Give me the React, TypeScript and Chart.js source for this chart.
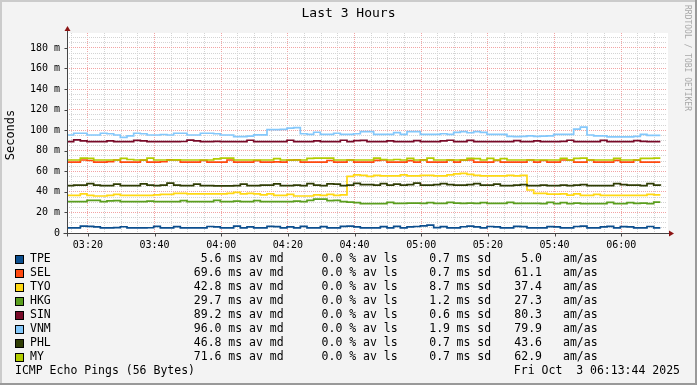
import React, { useEffect, useRef } from 'react';
import { Chart, registerables } from 'chart.js';
Chart.register(...registerables);

// ---- Data ----
const hosts = ['TPE', 'SEL', 'TYO', 'HKG', 'SIN', 'VNM', 'PHL', 'MY'];
const hostColors = ['#0b4e8e', '#ff4a10', '#ffd814', '#5a9e1e', '#780a28', '#84c8fb', '#2f3d04', '#b2cc00'];
const medianMs = ['5.6', '69.6', '42.8', '29.7', '89.2', '96.0', '46.8', '71.6'];
const lossPct = ['0.0', '0.0', '0.0', '0.0', '0.0', '0.0', '0.0', '0.0'];
const sdMs = ['0.7', '0.7', '8.7', '1.2', '0.6', '1.9', '0.7', '0.7'];
const amas = ['5.0', '61.1', '37.4', '27.3', '80.3', '79.9', '43.6', '62.9'];

// samples every 2 minutes, starting 03:13:44 (minutes after 03:00)
const sampleStartMin = 13 + 44 / 60;
const sampleStepMin = 2;
const rangeMinutes = 180;

const tpe = [
  5.0, 5.0, 6.6, 6.4, 6.0, 5.0, 5.0, 5.2, 6.1, 5.0,
  5.0, 5.0, 5.1, 6.5, 5.0, 5.0, 6.2, 5.0, 5.0, 5.0,
  5.0, 6.3, 6.0, 5.0, 5.0, 6.6, 5.0, 6.0, 5.0, 5.0,
  6.4, 6.2, 5.0, 6.0, 5.0, 6.5, 5.0, 5.0, 6.2, 5.0,
  5.0, 6.4, 6.6, 6.0, 5.0, 5.0, 5.0, 6.2, 5.0, 6.5,
  5.0, 6.0, 6.3, 7.0, 7.6, 5.2, 6.2, 5.0, 5.0, 6.1,
  6.6, 6.0, 5.0, 6.3, 6.0, 5.0, 5.0, 6.4, 6.2, 5.0,
  5.0, 5.0, 6.2, 6.0, 5.0, 5.0, 6.3, 6.6, 5.0, 5.0,
  6.0, 6.5, 5.0, 6.2, 6.0, 5.0, 5.0, 6.3, 5.0, 5.0,
];
const sel = [
  69.0, 69.0, 71.0, 70.5, 69.0, 69.0, 69.5, 71.0, 69.0, 69.0,
  69.0, 70.8, 69.0, 69.0, 69.3, 71.2, 71.0, 69.0, 69.0, 69.0,
  70.6, 69.0, 69.0, 69.0, 71.0, 69.0, 69.0, 69.0, 70.4, 69.0,
  69.0, 69.2, 69.0, 70.8, 71.2, 69.0, 69.0, 69.0, 69.0, 70.5,
  69.0, 69.0, 71.0, 69.0, 69.0, 69.0, 70.6, 71.0, 69.0, 69.0,
  69.0, 70.4, 69.0, 71.2, 69.0, 69.0, 69.0, 70.8, 69.0, 70.8,
  71.0, 69.0, 69.0, 69.0, 70.6, 69.0, 69.0, 69.0, 69.0, 71.0,
  69.0, 70.5, 69.0, 69.0, 71.0, 70.8, 69.0, 69.0, 71.0, 69.0,
  69.0, 69.0, 70.6, 69.0, 69.0, 70.8, 69.0, 69.0, 69.0, 69.0,
];
const tyo = [
  36.5, 36.5, 38.0, 36.5, 36.0, 36.0, 36.5, 37.5, 36.5, 36.5,
  36.5, 36.5, 36.5, 37.0, 37.5, 37.5, 38.5, 38.5, 38.0, 38.0,
  38.0, 38.0, 38.0, 38.0, 38.5, 39.5, 38.0, 38.5, 38.0, 37.0,
  38.0, 36.5, 36.5, 37.5, 36.0, 36.0, 36.0, 37.0, 36.5, 37.5,
  36.5, 37.0, 55.0, 56.5, 56.0, 55.0, 56.0, 55.5, 55.5, 55.5,
  56.5, 55.5, 55.5, 56.0, 56.0, 55.5, 55.5, 56.5, 57.5, 58.0,
  57.0, 56.0, 55.5, 55.5, 55.5, 55.5, 56.0, 55.5, 56.0, 41.8,
  38.6, 38.6, 37.8, 37.8, 38.0, 36.8, 38.0, 36.5, 36.5, 37.5,
  36.5, 36.5, 36.5, 36.5, 36.5, 36.5, 36.5, 37.5, 37.0, 37.0,
];
const hkg = [
  30.5, 30.5, 30.5, 31.8, 31.8, 30.5, 31.2, 31.5, 30.5, 30.5,
  30.5, 30.5, 31.0, 30.5, 30.5, 30.5, 30.5, 31.5, 30.5, 30.5,
  30.5, 30.5, 31.8, 30.5, 30.5, 31.0, 30.5, 30.5, 31.5, 30.5,
  30.5, 30.5, 30.5, 30.5, 31.0, 30.5, 31.8, 33.0, 33.0, 31.5,
  31.8, 30.5, 30.0, 29.5, 28.5, 28.5, 28.5, 28.5, 29.8, 28.8,
  28.8, 29.0, 29.0, 28.8, 29.5, 28.8, 28.8, 29.8, 29.0, 28.8,
  29.0, 28.8, 29.6, 28.8, 28.8, 28.8, 29.8, 28.8, 28.8, 28.8,
  28.8, 28.5, 29.8, 28.5, 29.6, 28.5, 29.0, 28.5, 28.5, 28.5,
  28.5, 29.8, 28.5, 28.5, 29.5, 28.8, 29.0, 28.5, 30.0, 30.0,
];
const sin = [
  88.8, 90.5, 89.6, 88.8, 88.8, 88.8, 89.6, 88.8, 88.8, 88.8,
  90.0, 89.6, 88.8, 88.8, 88.8, 88.8, 88.8, 89.0, 90.3, 89.6,
  88.8, 88.8, 89.2, 88.8, 88.8, 88.8, 88.8, 90.2, 88.8, 88.8,
  88.8, 88.8, 88.8, 90.2, 88.8, 88.8, 88.8, 89.6, 88.8, 88.8,
  88.8, 90.2, 88.8, 89.8, 90.0, 88.8, 88.8, 88.8, 89.6, 88.8,
  88.8, 88.8, 89.8, 88.8, 88.8, 88.8, 89.6, 90.2, 88.8, 88.8,
  90.0, 88.8, 88.8, 88.8, 88.8, 88.8, 88.8, 89.8, 88.8, 88.8,
  89.6, 88.8, 88.8, 88.8, 89.2, 90.2, 88.8, 88.8, 88.8, 88.8,
  90.0, 88.8, 88.8, 88.8, 88.8, 89.8, 89.2, 88.8, 88.8, 88.8,
];
const vnm = [
  95.3, 97.0, 97.0, 95.3, 95.3, 97.0, 96.5, 95.3, 93.0, 94.5,
  97.0, 96.5, 95.3, 95.3, 95.8, 95.3, 97.0, 97.0, 95.3, 95.3,
  97.0, 97.0, 96.5, 95.3, 95.3, 93.8, 93.8, 94.2, 95.5, 95.5,
  100.5, 100.5, 100.8, 102.0, 102.5, 96.5, 96.0, 98.0, 96.0, 96.0,
  97.0, 96.0, 96.0, 96.5, 98.5, 98.5, 96.0, 96.0, 96.0, 97.6,
  96.0, 98.6, 98.6, 96.0, 96.0, 96.0, 96.5, 96.0, 97.8, 98.5,
  97.5, 98.5, 97.8, 96.0, 96.0, 96.0, 94.0, 93.8, 94.0, 94.5,
  94.0, 94.2, 94.5, 96.0, 96.0, 96.0, 101.0, 103.0, 95.3, 94.5,
  94.5, 93.5, 93.5, 93.5, 93.5, 94.0, 96.0, 95.0, 95.0, 95.0,
];
const phl = [
  46.0, 46.5, 46.5, 48.0, 46.5, 46.0, 46.0, 47.5, 46.0, 46.0,
  46.0, 47.8, 46.5, 46.0, 46.5, 48.5, 46.5, 46.0, 46.0, 47.6,
  46.0, 46.0, 45.8, 45.8, 45.8, 46.0, 47.5, 46.0, 46.0, 46.5,
  46.5, 47.8, 46.0, 46.0, 46.5, 46.0, 48.0, 46.5, 46.0, 47.8,
  47.6, 46.0, 46.5, 48.2, 47.0, 47.0, 46.5, 48.0, 46.5, 47.5,
  46.5, 47.0, 48.5, 46.5, 46.5, 47.0, 48.0, 47.0, 46.5, 46.5,
  47.0, 48.0, 46.5, 46.5, 47.5, 46.0, 46.0, 46.5, 47.0, 46.0,
  46.0, 46.5, 46.0, 46.0, 46.5, 46.0, 46.5, 47.0, 46.0, 46.0,
  46.0, 46.0, 48.0, 47.0, 46.5, 46.5, 46.0, 48.0, 46.5, 46.0,
];
const my = [
  71.0, 71.0, 72.8, 72.5, 71.0, 71.0, 71.0, 71.0, 72.6, 71.5,
  71.0, 71.0, 72.8, 71.0, 71.0, 71.0, 71.2, 71.0, 71.0, 71.0,
  71.0, 71.0, 72.0, 72.8, 72.8, 71.0, 71.0, 71.0, 71.0, 71.0,
  71.0, 72.4, 71.0, 71.0, 71.0, 71.0, 72.6, 72.8, 72.8, 72.8,
  71.0, 71.0, 71.0, 71.0, 71.0, 71.0, 72.8, 71.5, 71.0, 71.5,
  71.0, 72.5, 71.0, 71.0, 72.8, 71.0, 71.0, 71.0, 71.0, 71.0,
  72.6, 72.4, 71.0, 72.6, 71.0, 72.4, 71.0, 71.0, 71.0, 71.0,
  71.0, 71.0, 71.0, 71.0, 72.5, 71.0, 72.5, 72.8, 71.0, 71.0,
  71.0, 71.0, 72.5, 71.0, 71.0, 71.0, 72.6, 72.6, 72.8, 72.8,
];

// ---- Axis ticks ----
const xMajorMinutes = [20, 40, 60, 80, 100, 120, 140, 160, 180];
const xTickLabels = ['03:20', '03:40', '04:00', '04:20', '04:40', '05:00', '05:20', '05:40', '06:00'];
const xMinorStep = 5;
const yMajorValues = [0, 20, 40, 60, 80, 100, 120, 140, 160, 180];
const yTickLabels = ['0', '20 m', '40 m', '60 m', '80 m', '100 m', '120 m', '140 m', '160 m', '180 m'];
const yMinorStep = 5;
const yMax = 194.5;

const titleText = 'Last 3 Hours';
const yAxisTitle = 'Seconds';
const watermark = 'RRDTOOL / TOBI OETIKER';
const footerLeft = 'ICMP Echo Pings (56 Bytes)';
const footerRight = 'Fri Oct  3 06:13:44 2025';

const MONO = '"DejaVu Sans Mono", monospace';
const MAJOR_GRID = '#f2a4a4';
const MINOR_GRID = '#d4d4d4';
const AXIS = '#454545';
const ARROW = '#8c1414';

const decorPlugin = {
  id: 'rrdDecor',
  beforeDraw(chart: any) {
    const { ctx, chartArea: ca, width, height } = chart;
    ctx.save();
    ctx.fillStyle = '#f3f3f3';
    ctx.fillRect(0, 0, width, height);
    // shade frame
    ctx.fillStyle = '#cbcbcb';
    ctx.fillRect(0, 0, width, 2);
    ctx.fillRect(0, 0, 2, height);
    ctx.fillStyle = '#999999';
    ctx.fillRect(0, height - 2, width, 2);
    ctx.fillRect(width - 2, 0, 2, height);
    // canvas
    ctx.fillStyle = '#ffffff';
    ctx.fillRect(ca.left, ca.top, ca.right - ca.left + 1, ca.bottom - ca.top);
    ctx.restore();
  },
  afterDraw(chart: any) {
    const { ctx, chartArea: ca, scales, width } = chart;
    ctx.save();
    const x0 = Math.round(ca.left) + 0.5;
    const y0 = Math.round(ca.bottom) + 0.5;
    ctx.strokeStyle = AXIS;
    ctx.lineWidth = 1;
    ctx.beginPath();
    ctx.moveTo(x0, y0 + 3);
    ctx.lineTo(x0, ca.top - 3);
    ctx.moveTo(x0 - 4, y0);
    ctx.lineTo(ca.right + 2, y0);
    // ticks
    for (const v of yMajorValues) {
      const py = Math.round(scales.y.getPixelForValue(v)) + 0.5;
      ctx.moveTo(x0 - 3, py);
      ctx.lineTo(x0, py);
    }
    for (const m of xMajorMinutes) {
      const px = Math.round(scales.x.getPixelForValue(m)) + 0.5;
      ctx.moveTo(px, y0);
      ctx.lineTo(px, y0 + 3);
    }
    ctx.stroke();
    // arrows
    ctx.fillStyle = ARROW;
    ctx.beginPath();
    ctx.moveTo(x0, ca.top - 7);
    ctx.lineTo(x0 - 3, ca.top - 2);
    ctx.lineTo(x0 + 3, ca.top - 2);
    ctx.closePath();
    ctx.fill();
    ctx.beginPath();
    ctx.moveTo(ca.right + 7, y0);
    ctx.lineTo(ca.right + 2, y0 - 3);
    ctx.lineTo(ca.right + 2, y0 + 3);
    ctx.closePath();
    ctx.fill();

    // title
    ctx.fillStyle = '#000';
    ctx.font = `13px ${MONO}`;
    ctx.textAlign = 'center';
    ctx.textBaseline = 'middle';
    ctx.fillText(titleText, width / 2, 14);

    // y axis title
    ctx.save();
    ctx.translate(11, (ca.top + ca.bottom) / 2 - 3 + 5);
    ctx.rotate(-Math.PI / 2);
    ctx.font = `12px ${MONO}`;
    ctx.fillText(yAxisTitle, 0, 0);
    ctx.restore();

    // watermark
    ctx.save();
    ctx.translate(691, 5);
    ctx.rotate(Math.PI / 2);
    ctx.font = `8px ${MONO}`;
    ctx.fillStyle = '#a8a8a8';
    ctx.textAlign = 'left';
    ctx.textBaseline = 'top';
    ctx.fillText(watermark, 0, 0);
    ctx.restore();

    // legend
    ctx.font = `11.5px ${MONO}`;
    ctx.textBaseline = 'middle';
    for (let i = 0; i < hosts.length; i++) {
      const cy = 259.5 + 14 * i;
      ctx.fillStyle = hostColors[i];
      ctx.fillRect(15, cy - 4.5, 9, 9);
      ctx.strokeStyle = '#000';
      ctx.lineWidth = 1;
      ctx.strokeRect(15.5, cy - 4, 8, 8);
      ctx.fillStyle = '#000';
      ctx.textAlign = 'left';
      ctx.fillText(hosts[i], 30, cy);
      ctx.textAlign = 'right';
      ctx.fillText(medianMs[i], 221.5, cy);
      ctx.fillText(lossPct[i], 342.3, cy);
      ctx.fillText(sdMs[i], 450, cy);
      ctx.fillText(amas[i], 542, cy);
      ctx.textAlign = 'left';
      ctx.fillText('ms av md', 228.3, cy);
      ctx.fillText('% av ls', 349.2, cy);
      ctx.fillText('ms sd', 456.5, cy);
      ctx.fillText('am/as', 563, cy);
    }
    const fy = 259.5 + 14 * hosts.length;
    ctx.textAlign = 'left';
    ctx.fillText(footerLeft, 15, fy);
    ctx.textAlign = 'right';
    ctx.fillText(footerRight, 680, fy);
    ctx.restore();
  },
};

export default function App() {
  const ref = useRef<HTMLCanvasElement>(null);
  useEffect(() => {
    document.body.style.margin = '0';
    const canvas = ref.current!;
    const series = [tpe, sel, tyo, hkg, sin, vnm, phl, my];
    const datasets = series.map((vals, i) => ({
      label: hosts[i],
      data: vals.map((v, k) => ({ x: sampleStartMin + k * sampleStepMin, y: v })),
      borderColor: hostColors[i],
      backgroundColor: hostColors[i],
      borderWidth: 1.7,
      pointRadius: 0,
      stepped: true,
      fill: false,
      order: -i,
    }));
    const xMin = sampleStartMin;
    const xMax = sampleStartMin + rangeMinutes;
    const chart = new Chart(canvas, {
      type: 'line',
      data: { datasets },
      options: {
        animation: false,
        responsive: false,
        devicePixelRatio: 1,
        layout: { padding: { left: 0, top: 33, right: 30, bottom: 0 } },
        plugins: {
          legend: { display: false },
          tooltip: { enabled: false },
          title: { display: false },
        },
        scales: {
          x: {
            type: 'linear',
            min: xMin,
            max: xMax,
            afterBuildTicks: (s: any) => {
              const t = [];
              for (let v = Math.ceil(xMin / xMinorStep) * xMinorStep; v <= xMax; v += xMinorStep) t.push({ value: v });
              s.ticks = t;
            },
            afterFit: (s: any) => { s.height = 152; },
            grid: {
              color: (c: any) => (c.tick && xMajorMinutes.includes(c.tick.value) ? MAJOR_GRID : MINOR_GRID),
              lineWidth: 1,
              drawTicks: false,
            },
            border: { display: false, dash: [1, 1] },
            ticks: {
              autoSkip: false,
              maxRotation: 0,
              padding: 6,
              color: '#000',
              font: { family: MONO, size: 10 },
              callback: (value: any) => {
                const k = xMajorMinutes.indexOf(Number(value));
                return k >= 0 ? xTickLabels[k] : '';
              },
            },
          },
          y: {
            type: 'linear',
            min: 0,
            max: yMax,
            afterBuildTicks: (s: any) => {
              const t = [];
              for (let v = 0; v <= yMax; v += yMinorStep) t.push({ value: v });
              s.ticks = t;
            },
            afterFit: (s: any) => { s.width = 67; },
            grid: {
              color: (c: any) => (c.tick && yMajorValues.includes(c.tick.value) ? MAJOR_GRID : MINOR_GRID),
              lineWidth: 1,
              drawTicks: false,
            },
            border: { display: false, dash: [1, 1] },
            ticks: {
              autoSkip: false,
              padding: 7,
              color: '#000',
              font: { family: MONO, size: 10 },
              callback: (value: any) => {
                const k = yMajorValues.indexOf(Number(value));
                return k >= 0 ? yTickLabels[k] : '';
              },
            },
          },
        },
      },
      plugins: [decorPlugin],
    } as any);
    return () => chart.destroy();
  }, []);
  return (
    <div style={{ position: 'fixed', left: 0, top: 0, width: 697, height: 385 }}>
      <canvas ref={ref} width={697} height={385} style={{ display: 'block', width: 697, height: 385 }} />
    </div>
  );
}
